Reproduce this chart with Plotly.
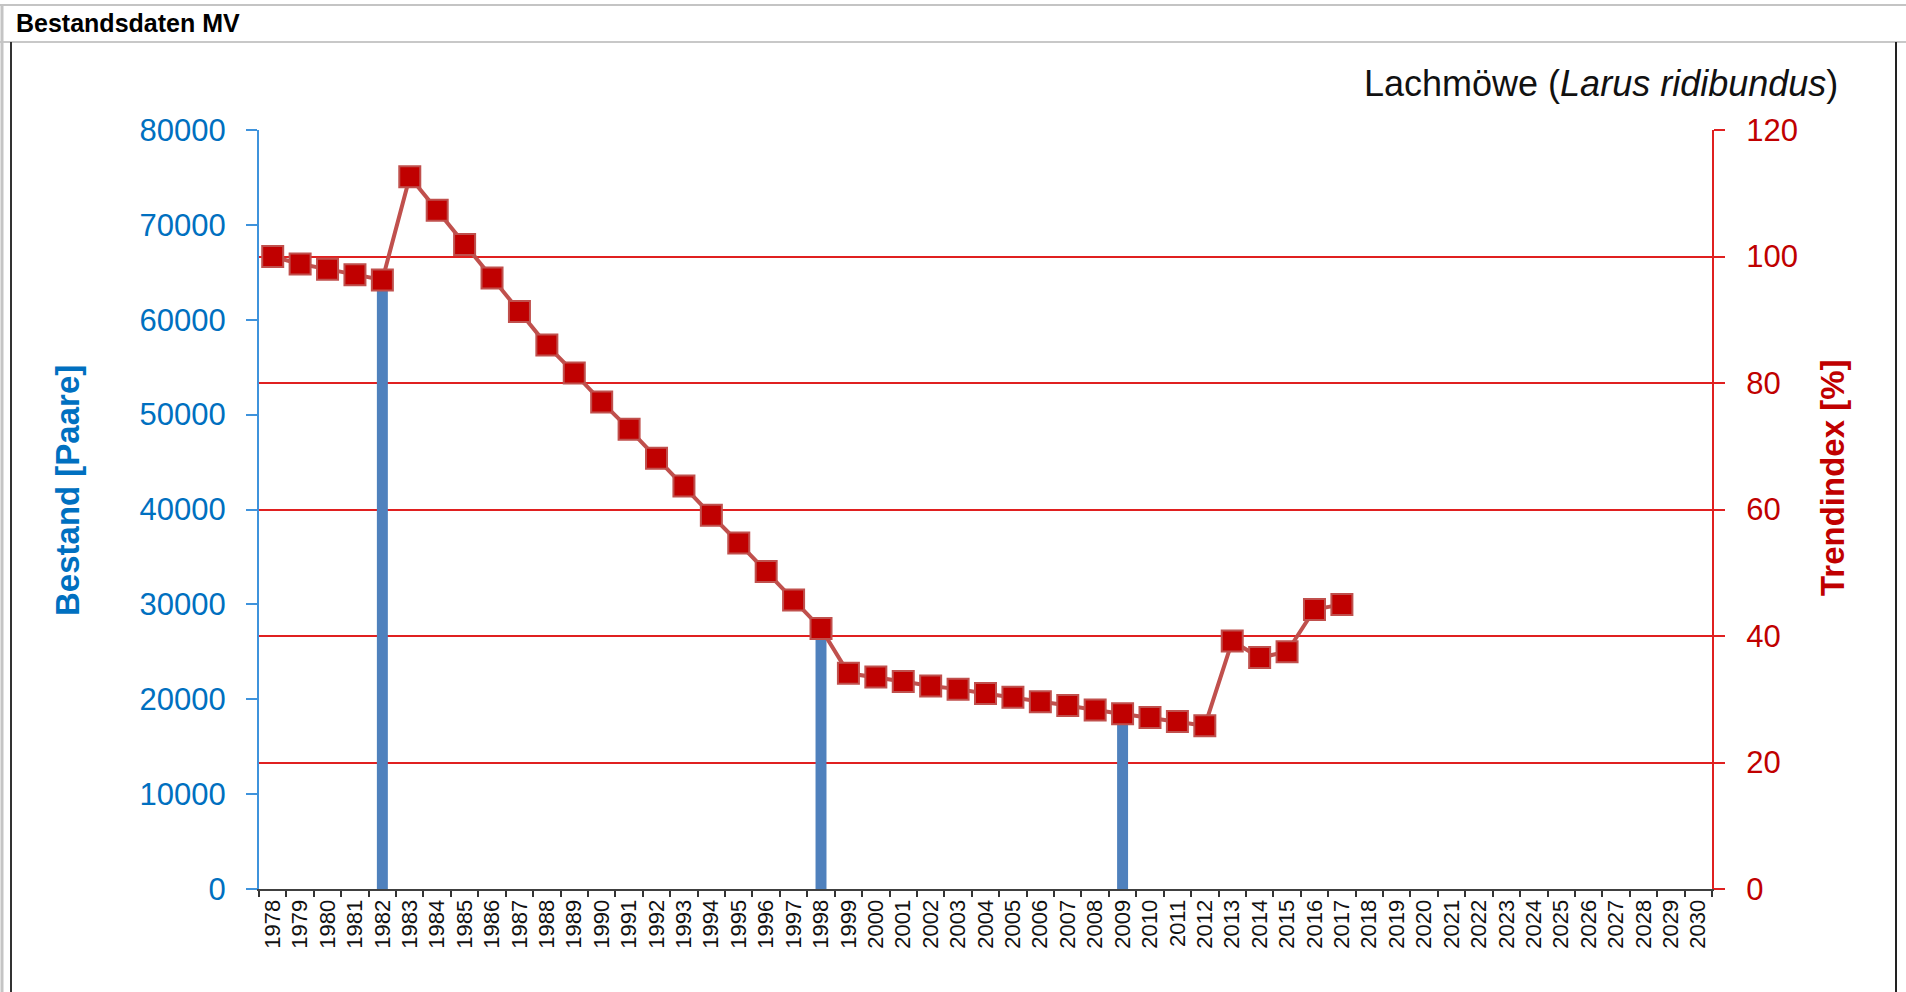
import plotly.graph_objects as go

# ---------------- data ----------------
years = [str(y) for y in range(1978, 2031)]

bestand_years = ["1982", "1998", "2009"]
bestand_values = [64200, 27500, 18500]

trend_years = [str(y) for y in range(1978, 2018)]
trend_values = [100.0, 98.8, 98.0, 97.1, 96.3, 112.6, 107.3, 101.9, 96.6, 91.3,
                86.0, 81.6, 77.0, 72.7, 68.1, 63.7, 59.1, 54.7, 50.2, 45.7,
                41.2, 34.1, 33.5, 32.8, 32.1, 31.6, 30.9, 30.3, 29.6, 29.0,
                28.3, 27.7, 27.1, 26.5, 25.8, 39.2, 36.6, 37.5, 44.2, 45.0]

left_ticks = [0, 10000, 20000, 30000, 40000, 50000, 60000, 70000, 80000]
right_ticks = [0, 20, 40, 60, 80, 100, 120]

# ---------------- layout geometry ----------------
W, H = 1906, 992
PL, PR, PT, PB = 259, 1712, 130, 889


def px_x(x):
    return (x - PL) / (PR - PL)


def px_y(y):
    return (PB - y) / (PB - PT)


FONT = "Liberation Sans, Arial, sans-serif"
BLUE_TXT = "#0070c0"
BLUE_AX = "#3f93dc"
RED_TXT = "#c00000"
RED_AX = "#e02020"

fig = go.Figure()

fig.add_trace(go.Bar(
    x=bestand_years, y=bestand_values, yaxis="y",
    marker=dict(color="#4f81bd", line=dict(width=0)),
    width=0.4, name="Bestand",
))

fig.add_trace(go.Scatter(
    x=trend_years, y=trend_values, yaxis="y2", mode="lines+markers",
    line=dict(color="#c0504d", width=4),
    marker=dict(symbol="square", size=21, color="#c00000",
                line=dict(color="#c0504d", width=2)),
    name="Trendindex",
))

shapes = []


def hline(y, x0, x1, color, width):
    shapes.append(dict(type="line", xref="paper", yref="paper",
                       x0=px_x(x0), x1=px_x(x1), y0=px_y(y), y1=px_y(y),
                       line=dict(color=color, width=width)))


def vline(x, y0, y1, color, width):
    shapes.append(dict(type="line", xref="paper", yref="paper",
                       x0=px_x(x), x1=px_x(x), y0=px_y(y0), y1=px_y(y1),
                       line=dict(color=color, width=width)))


hline(5, 0, W, "#c4c4c4", 2)
hline(42, 0, W, "#c8c8c8", 2)
vline(2, 5, H, "#c4c4c4", 3)
vline(11, 42, H, "#333333", 2)
vline(1896, 42, H, "#222222", 2)

annotations = [
    dict(text="<b>Bestandsdaten MV</b>", xref="paper", yref="paper",
         x=px_x(14), y=px_y(23), xanchor="left", yanchor="middle",
         showarrow=False, font=dict(family=FONT, size=25, color="#000000")),
    dict(text="Lachmöwe (<i>Larus ridibundus</i>)", xref="paper", yref="paper",
         x=px_x(1840), y=px_y(83), xanchor="right", yanchor="middle",
         showarrow=False, font=dict(family=FONT, size=36, color="#111111")),
    dict(text="<b>Bestand [Paare]</b>", xref="paper", yref="paper",
         x=px_x(67), y=px_y(491), xanchor="center", yanchor="middle",
         textangle=-90, showarrow=False,
         font=dict(family=FONT, size=33, color=BLUE_TXT)),
    dict(text="<b>Trendindex [%]</b>", xref="paper", yref="paper",
         x=px_x(1832), y=px_y(478), xanchor="center", yanchor="middle",
         textangle=-90, showarrow=False,
         font=dict(family=FONT, size=33, color=RED_TXT)),
]

fig.update_layout(
    width=W, height=H,
    margin=dict(l=PL, r=W - PR, t=PT, b=H - PB, pad=0),
    paper_bgcolor="white", plot_bgcolor="white",
    showlegend=False,
    bargap=0.6,
    shapes=shapes,
    annotations=annotations,
    xaxis=dict(
        type="category", categoryorder="array", categoryarray=years,
        range=[-0.5, len(years) - 0.5],
        tickmode="array", tickvals=years, ticktext=years,
        tickangle=-90, tickfont=dict(family=FONT, size=22, color="#111111"),
        ticks="outside", ticklen=6, tickwidth=1.5, tickcolor="#333333",
        tickson="boundaries",
        showline=True, linecolor="#404040", linewidth=2,
        showgrid=False, zeroline=False,
    ),
    yaxis=dict(
        range=[0, 80000], tickmode="array", tickvals=left_ticks,
        ticktext=[str(v) for v in left_ticks],
        tickfont=dict(family=FONT, size=31, color=BLUE_TXT),
        ticks="outside", ticklen=11, tickwidth=1.5, tickcolor=BLUE_AX,
        showline=True, linecolor=BLUE_AX, linewidth=2,
        showgrid=False, zeroline=False, ticklabelstandoff=14,
    ),
    yaxis2=dict(
        range=[0, 120], overlaying="y", side="right",
        tickmode="array", tickvals=right_ticks,
        ticktext=[str(v) for v in right_ticks],
        tickfont=dict(family=FONT, size=31, color=RED_TXT),
        ticks="outside", ticklen=11, tickwidth=1.5, tickcolor=RED_AX,
        showline=True, linecolor=RED_AX, linewidth=2,
        showgrid=True, gridcolor=RED_AX, gridwidth=1.5,
        zeroline=False, ticklabelstandoff=15,
    ),
)

fig.write_html(
    "out.html",
    config={"displayModeBar": False},
    post_script="document.body.style.margin='0';document.body.style.overflow='hidden';",
)
